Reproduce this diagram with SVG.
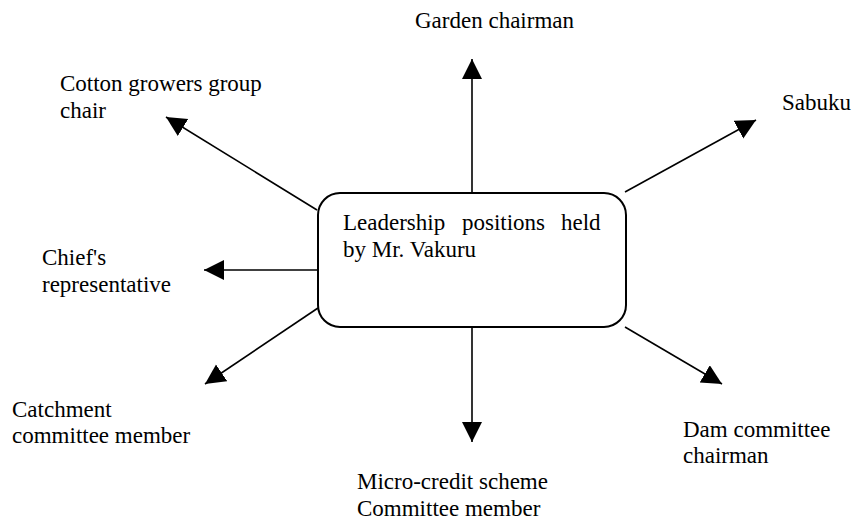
<svg xmlns="http://www.w3.org/2000/svg" width="853" height="527" viewBox="0 0 853 527">
<style>
text{font-family:"Liberation Serif","Times New Roman",serif;font-size:23px;fill:#000}
.c{stroke:#000;stroke-width:1.6;fill:none}
</style>
<defs>
<marker id="ah" markerUnits="userSpaceOnUse" markerWidth="22" markerHeight="22" refX="20" refY="10" orient="auto" viewBox="0 0 22 22">
<path d="M0,0 L20,10 L0,20 z" fill="#000"/>
</marker>
</defs>
<rect width="853" height="527" fill="#fff"/>
<g id="connectors">
<line class="c" x1="472" y1="193" x2="472" y2="59" marker-end="url(#ah)"/>
<line class="c" x1="625" y1="192" x2="756" y2="120" marker-end="url(#ah)"/>
<line class="c" x1="317" y1="210" x2="166" y2="117" marker-end="url(#ah)"/>
<line class="c" x1="318" y1="270" x2="204" y2="270" marker-end="url(#ah)"/>
<line class="c" x1="318" y1="308" x2="205" y2="384" marker-end="url(#ah)"/>
<line class="c" x1="472" y1="327" x2="472" y2="442" marker-end="url(#ah)"/>
<line class="c" x1="625" y1="327" x2="722" y2="384" marker-end="url(#ah)"/>
</g>
<g id="center">
<rect x="318" y="193" width="308" height="134" rx="22" ry="22" fill="#fff" stroke="#000" stroke-width="2"/>
<text y="230"><tspan x="343">Leadership</tspan><tspan x="462">positions</tspan><tspan x="561">held</tspan></text>
<text x="343" y="257">by Mr. Vakuru</text>
</g>
<g id="garden"><text x="415" y="28">Garden chairman</text></g>
<g id="cotton"><text x="60" y="91">Cotton growers group</text><text x="60" y="118">chair</text></g>
<g id="sabuku"><text x="782" y="110">Sabuku</text></g>
<g id="chief"><text x="42" y="265">Chief's</text><text x="42" y="292">representative</text></g>
<g id="catchment"><text x="12" y="417">Catchment</text><text x="12" y="443">committee member</text></g>
<g id="microcredit"><text x="357" y="489">Micro-credit scheme</text><text x="357" y="516">Committee member</text></g>
<g id="dam"><text x="683" y="437">Dam committee</text><text x="683" y="463">chairman</text></g>
</svg>
